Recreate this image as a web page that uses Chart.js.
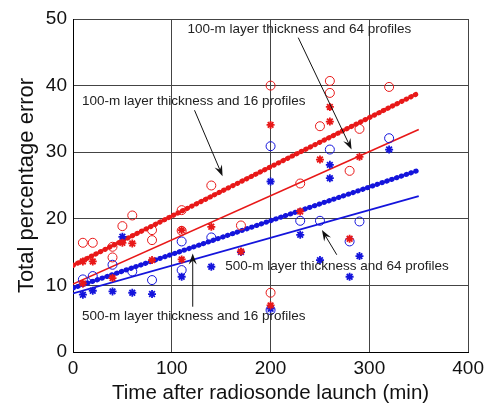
<!DOCTYPE html>
<html>
<head>
<meta charset="utf-8">
<script src="https://cdn.jsdelivr.net/npm/chart.js@4.4.0/dist/chart.umd.min.js"></script>
<style>
  body { margin: 0; background: #fff; }
  #wrap { width: 489px; height: 407px; position: relative; }
</style>
</head>
<body>
<div id="wrap"><canvas id="errChart"></canvas></div>
<script>
// scattered points (x = minutes, y = % error)
let redCircleX = [10, 20, 40, 40, 50, 60, 80, 80, 110, 110, 140, 170, 200, 200, 230, 250, 260, 260, 280, 290, 320]
let redCircleY = [16.4, 16.4, 15.8, 14.2, 18.9, 20.5, 18.3, 16.8, 21.3, 18.2, 25, 19, 40, 8.9, 25.3, 33.9, 40.7, 38.9, 27.2, 33.5, 39.8]

let redStarX = [10, 10, 20, 40, 50, 60, 80, 110, 110, 140, 170, 200, 200, 230, 250, 260, 260, 280, 290]
let redStarY = [13.6, 10.3, 13.6, 11.1, 16.4, 16.3, 13.8, 18.3, 13.9, 18.8, 15.1, 34.1, 7, 21.1, 28.9, 36.8, 34.6, 17, 29.3]

let blueCircleX = [10, 20, 40, 60, 80, 110, 110, 140, 200, 200, 230, 250, 260, 280, 290, 320]
let blueCircleY = [10.9, 11.4, 13.1, 12.1, 10.8, 16.6, 12.3, 17.2, 30.9, 6.3, 19.7, 19.7, 30.4, 16.6, 19.6, 32.1]

let blueStarX = [10, 20, 40, 50, 60, 80, 110, 140, 170, 200, 200, 230, 250, 260, 260, 280, 290, 320]
let blueStarY = [8.6, 9.2, 9.1, 17.3, 8.9, 8.7, 11.3, 12.8, 15, 25.6, 6.5, 17.6, 13.8, 28.1, 26.1, 11.3, 14.4, 30.4]

// fitted lines (end points)
let fitX = [0, 350]
let redDotFit = [13, 38.9]
let redFit = [10.2, 33.4]
let blueDotFit = [9.6, 27.3]
let blueFit = [8.8, 23.4]

let xTicks = [0, 100, 200, 300, 400]
let yTicks = [0, 10, 20, 30, 40, 50]

const RED = '#e81818';
const BLUE = '#1414dc';

function pts(xs, ys){
    return xs.map(function(x, i){ return {x: x, y: ys[i]} })
}

// text notes with their arrows (data units)
let notes = [
    {text: '100-m layer thickness and 64 profiles', x: 116, y: 48.4, from: [228, 47.2], to: [282, 30.4]},
    {text: '100-m layer thickness and 16 profiles', x: 9, y: 37.6, from: [123, 36.3], to: [151.4, 26.4]},
    {text: '500-m layer thickness and 64 profiles', x: 154, y: 12.8, from: [267, 14.6], to: [252, 18.3]},
    {text: '500-m layer thickness and 16 profiles', x: 9, y: 5.3, from: [121.2, 6.8], to: [121.2, 14.8]}
]

const notePlugin = {
    id: 'notes',
    afterDatasetsDraw(chart){
        const ctx = chart.ctx
        const xs = chart.scales.x, ys = chart.scales.y
        ctx.save()
        ctx.fillStyle = '#222'
        ctx.strokeStyle = '#111'
        ctx.font = '13.5px "Liberation Sans", Arial, sans-serif'
        ctx.textBaseline = 'middle'
        notes.forEach(function(n){
            ctx.fillText(n.text, xs.getPixelForValue(n.x), ys.getPixelForValue(n.y))
            let x1 = xs.getPixelForValue(n.from[0]), y1 = ys.getPixelForValue(n.from[1])
            let x2 = xs.getPixelForValue(n.to[0]), y2 = ys.getPixelForValue(n.to[1])
            let ang = Math.atan2(y2 - y1, x2 - x1)
            ctx.lineWidth = 1
            ctx.beginPath()
            ctx.moveTo(x1, y1)
            ctx.lineTo(x2 - 6 * Math.cos(ang), y2 - 6 * Math.sin(ang))
            ctx.stroke()
            ctx.beginPath()
            ctx.moveTo(x2, y2)
            ctx.lineTo(x2 - 11 * Math.cos(ang) + 4 * Math.sin(ang), y2 - 11 * Math.sin(ang) - 4 * Math.cos(ang))
            ctx.lineTo(x2 - 7 * Math.cos(ang), y2 - 7 * Math.sin(ang))
            ctx.lineTo(x2 - 11 * Math.cos(ang) - 4 * Math.sin(ang), y2 - 11 * Math.sin(ang) + 4 * Math.cos(ang))
            ctx.closePath()
            ctx.fillStyle = '#111'
            ctx.fill()
            ctx.fillStyle = '#222'
        })
        ctx.restore()
    }
}

function scatterSet(label, data, color, style){
    return {
        type: 'scatter',
        label: label,
        data: data,
        pointStyle: style,
        pointRadius: style === 'star' ? 4 : 4.5,
        borderColor: color,
        backgroundColor: 'rgba(0,0,0,0)',
        pointBorderWidth: style === 'star' ? 1.8 : 1,
        showLine: false
    }
}

function fitSet(label, ys, color, dotted){
    return {
        type: 'line',
        label: label,
        data: pts(fitX, ys),
        borderColor: color,
        borderWidth: dotted ? 5 : 1.7,
        borderDash: dotted ? [0.5, 4.6] : [],
        borderCapStyle: dotted ? 'round' : 'butt',
        pointRadius: 0,
        fill: false
    }
}

const tickFont = {family: '"Liberation Sans", Arial, sans-serif', size: 19}

new Chart(document.getElementById('errChart').getContext('2d'), {
    data: {
        datasets: [
            scatterSet('red circles', pts(redCircleX, redCircleY), RED, 'circle'),
            scatterSet('red stars', pts(redStarX, redStarY), RED, 'star'),
            scatterSet('blue circles', pts(blueCircleX, blueCircleY), BLUE, 'circle'),
            scatterSet('blue stars', pts(blueStarX, blueStarY), BLUE, 'star'),
            fitSet('red dotted fit', redDotFit, RED, true),
            fitSet('red fit', redFit, RED, false),
            fitSet('blue dotted fit', blueDotFit, BLUE, true),
            fitSet('blue fit', blueFit, BLUE, false)
        ]
    },
    options: {
        responsive: true,
        maintainAspectRatio: false,
        animation: false,
        layout: {padding: {top: 19, right: 18, left: 0, bottom: 0}},
        plugins: {legend: {display: false}, tooltip: {enabled: false}},
        scales: {
            x: {
                type: 'linear',
                min: 0,
                max: 400,
                afterFit: function(s){ s.height = 55 },
                afterBuildTicks: function(s){ s.ticks = xTicks.map(function(v){ return {value: v} }) },
                grid: {color: '#444', lineWidth: 1, drawTicks: false},
                border: {color: '#000', width: 1},
                ticks: {color: '#111', font: tickFont, padding: 5, maxRotation: 0},
                title: {display: true, text: 'Time after radiosonde launch (min)', color: '#111',
                        font: {family: '"Liberation Sans", Arial, sans-serif', size: 20.5, lineHeight: 1.1}, padding: {top: 0, bottom: 2}}
            },
            y: {
                type: 'linear',
                min: 0,
                max: 50,
                afterFit: function(s){ s.width = 73 },
                afterBuildTicks: function(s){ s.ticks = yTicks.map(function(v){ return {value: v} }) },
                grid: {color: '#444', lineWidth: 1, drawTicks: false},
                border: {color: '#000', width: 1},
                ticks: {color: '#111', font: tickFont, padding: 6},
                title: {display: true, text: 'Total percentage error', color: '#111',
                        font: {family: '"Liberation Sans", Arial, sans-serif', size: 22, lineHeight: 1.1}, padding: {top: 15, bottom: 0}}
            }
        }
    },
    plugins: [notePlugin]
});
</script>
</body>
</html>
